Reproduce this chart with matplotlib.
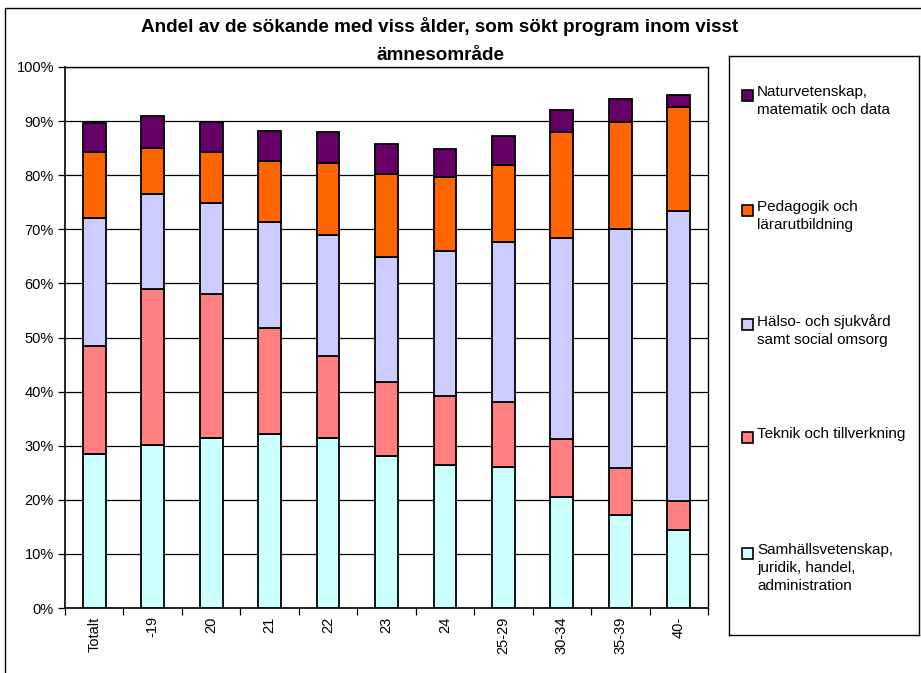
import numpy as np
import matplotlib
matplotlib.use('Agg')
import matplotlib.pyplot as plt
from matplotlib.patches import Rectangle

plt.rcParams['font.family'] = ['Liberation Sans', 'DejaVu Sans']

# Age groups on the x axis
groups = ['Totalt', '-19', '20', '21', '22', '23', '24', '25-29', '30-34', '35-39', '40-']

# Share (%) of applicants per subject area, stacked bottom to top
samhall = [28.5, 30.1, 31.5, 32.2, 31.5, 28.1, 26.4, 26.1, 20.6, 17.1, 14.4]
teknik = [19.9, 28.9, 26.5, 19.6, 15.0, 13.7, 12.7, 12.0, 10.6, 8.7, 5.4]
halso = [23.6, 17.5, 16.8, 19.5, 22.5, 23.1, 26.8, 29.6, 37.1, 44.2, 53.6]
pedagogik = [12.3, 8.5, 9.5, 11.3, 13.3, 15.4, 13.7, 14.2, 19.6, 19.9, 19.2]
natur = [5.3, 5.9, 5.6, 5.6, 5.6, 5.5, 5.2, 5.3, 4.1, 4.2, 2.2]

series = [
    ('Samhällsvetenskap,\njuridik, handel,\nadministration', samhall, '#CCFFFF'),
    ('Teknik och tillverkning', teknik, '#FF8080'),
    ('Hälso- och sjukvård\nsamt social omsorg', halso, '#CCCCFF'),
    ('Pedagogik och\nlärarutbildning', pedagogik, '#FF6600'),
    ('Naturvetenskap,\nmatematik och data', natur, '#660066'),
]

W, H = 921, 673
fig = plt.figure(figsize=(W / 100, H / 100), dpi=100)

# outer chart frame (left and top edges visible)
fig.add_artist(Rectangle((5 / W, -0.2), 2.0, 1.2 - 8 / H, transform=fig.transFigure,
                         fill=False, ec='black', lw=1.0))

ax = fig.add_axes([65 / W, 1 - 608 / H, (708 - 65) / W, (608 - 67) / H])

x = np.arange(len(groups))
bottom = np.zeros(len(groups))
for name, vals, color in series:
    vals = np.array(vals) / 100.0
    ax.bar(x, vals, width=0.39, bottom=bottom, color=color, edgecolor='black',
           linewidth=1.3, zorder=3)
    bottom += vals

ax.set_xlim(-0.5, len(groups) - 0.5)
ax.set_ylim(0, 1)
ax.set_yticks(np.arange(0, 1.01, 0.1))
ax.set_yticklabels([f'{int(round(v * 100))}%' for v in np.arange(0, 1.01, 0.1)], fontsize=10.5)
ax.yaxis.grid(True, color='black', linewidth=0.9, zorder=0)
ax.set_axisbelow(True)

ax.set_xticks(x)
ax.set_xticklabels(groups, rotation=90, fontsize=10.5)
ax.tick_params(axis='x', which='major', length=0, pad=6)
ax.set_xticks(np.arange(-0.5, len(groups), 1.0), minor=True)
ax.tick_params(axis='x', which='minor', length=5, width=0.9, direction='out')
ax.tick_params(axis='y', length=5, width=0.9, direction='out', pad=3)
for s in ax.spines.values():
    s.set_linewidth(1.0)
    s.set_color('black')
ax.spines['left'].set_linewidth(1.2)
ax.spines['bottom'].set_linewidth(1.2)

fig.text(440 / W, 1 - 27 / H, 'Andel av de sökande med viss ålder, som sökt program inom visst',
         ha='center', va='center', fontsize=13.6, fontweight='bold')
fig.text(440 / W, 1 - 55 / H, 'ämnesområde', ha='center', va='center',
         fontsize=13.6, fontweight='bold')

# legend box with evenly spaced entries, top series first
lax = fig.add_axes([729 / W, 1 - 635 / H, (919 - 729) / W, (635 - 56) / H])
lax.set_xlim(729, 919)
lax.set_ylim(635, 56)
lax.set_xticks([])
lax.set_yticks([])
for s in lax.spines.values():
    s.set_linewidth(1.0)
entry_y = [95, 210, 324, 437, 553]
for (name, vals, color), yy in zip(series[::-1], entry_y):
    lax.add_patch(Rectangle((742, yy - 5.5), 11, 11, fc=color, ec='black', lw=1.2))
    lax.text(757, yy - 10, name, ha='left', va='top', fontsize=11, linespacing=1.35)

fig.savefig('out.png', dpi=100)
